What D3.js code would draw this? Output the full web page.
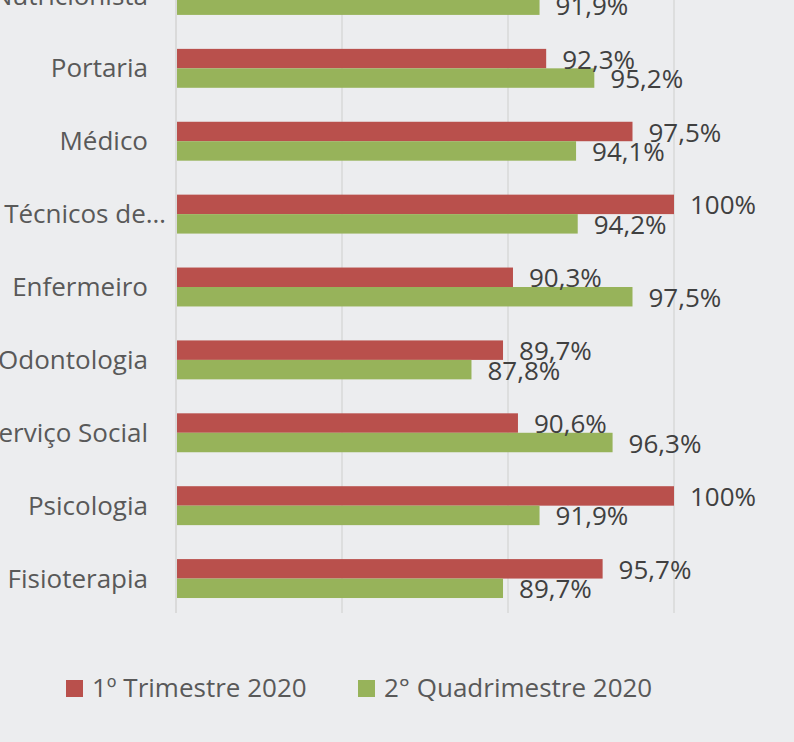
<!DOCTYPE html>
<html>
<head>
<meta charset="utf-8">
<script src="https://cdn.jsdelivr.net/npm/d3@7"></script>
<style>
  html, body { margin: 0; padding: 0; background: #ecedef; }
  #chart { display: block; }
  text { font-family: "Open Sans", Lato, sans-serif; }
</style>
</head>
<body>
<svg id="chart"></svg>
<script>
// categories, top to bottom
var categories = ["Nutricionista", "Portaria", "Médico", "Técnicos de…", "Enfermeiro",
    "Odontologia", "Serviço Social", "Psicologia", "Fisioterapia"];
var seriesNames = ["1º Trimestre 2020", "2° Quadrimestre 2020"];
var trimestre = [95.0, 92.3, 97.5, 100, 90.3, 89.7, 90.6, 100, 95.7];
var quadrimestre = [91.9, 95.2, 94.1, 94.2, 97.5, 87.8, 96.3, 91.9, 89.7];
var xTicks = [70, 80, 90, 100];

var width = 794, height = 742;
var colors = ["#b9504c", "#97b35a"];
var fontSize = "26px";

var svg = d3.select("#chart")
    .attr("width", width)
    .attr("height", height);

var x = d3.scaleLinear().domain([70, 100]).range([176, 674]);

var y = d3.scaleBand()
    .domain(categories)
    .range([-41, 615])
    .paddingInner(0.466)
    .paddingOuter(0.233);

var sub = d3.scaleBand()
    .domain([0, 1])
    .range([0, y.bandwidth()]);

var fmt = function (v) {
    return v === 100 ? "100%" : d3.format(".1f")(v).replace(".", ",") + "%";
};

// gridlines
svg.append("g")
    .selectAll("line")
    .data(xTicks)
    .enter()
    .append("line")
    .attr("x1", function (d) { return x(d); })
    .attr("x2", function (d) { return x(d); })
    .attr("y1", 0)
    .attr("y2", 613)
    .attr("stroke", "#d9d9d9")
    .attr("stroke-width", 1.5);

var rows = categories.map(function (c, i) {
    return { cat: c, vals: [trimestre[i], quadrimestre[i]] };
});

var group = svg.append("g")
    .selectAll("g")
    .data(rows)
    .enter()
    .append("g")
    .attr("transform", function (d) { return "translate(0," + y(d.cat) + ")"; });

group.selectAll("rect")
    .data(function (d) { return d.vals; })
    .enter()
    .append("rect")
    .attr("x", x(70) + 1)
    .attr("y", function (d, i) { return sub(i); })
    .attr("width", function (d) { return x(d) - x(70) - 1; })
    .attr("height", sub.bandwidth())
    .attr("fill", function (d, i) { return colors[i]; });

group.selectAll(".val")
    .data(function (d) { return d.vals; })
    .enter()
    .append("text")
    .attr("class", "val")
    .attr("x", function (d) { return x(d) + 16; })
    .attr("y", function (d, i) { return sub(i) + sub.bandwidth() / 2 + 1; })
    .attr("dy", "0.35em")
    .attr("fill", "#404040")
    .style("font-size", fontSize)
    .text(fmt);

// category labels
group.append("text")
    .attr("x", function (d) { return /…$/.test(d.cat) ? 166 : 148; })
    .attr("y", y.bandwidth() / 2)
    .attr("dy", "0.35em")
    .attr("text-anchor", "end")
    .attr("fill", "#595959")
    .style("font-size", fontSize)
    .text(function (d) { return d.cat; });

// left axis line
svg.append("line")
    .attr("x1", x(70)).attr("x2", x(70))
    .attr("y1", 0).attr("y2", 613)
    .attr("stroke", "#d9d9d9")
    .attr("stroke-width", 1.5);

// legend
var legend = svg.append("g")
    .selectAll("g")
    .data(seriesNames)
    .enter()
    .append("g")
    .attr("transform", function (d, i) { return "translate(" + [66, 358][i] + ",680)"; });

legend.append("rect")
    .attr("width", 17)
    .attr("height", 17)
    .attr("fill", function (d, i) { return colors[i]; });

legend.append("text")
    .attr("x", 26)
    .attr("y", 17)
    .attr("fill", "#595959")
    .style("font-size", fontSize)
    .text(function (d) { return d; });
</script>
</body>
</html>
